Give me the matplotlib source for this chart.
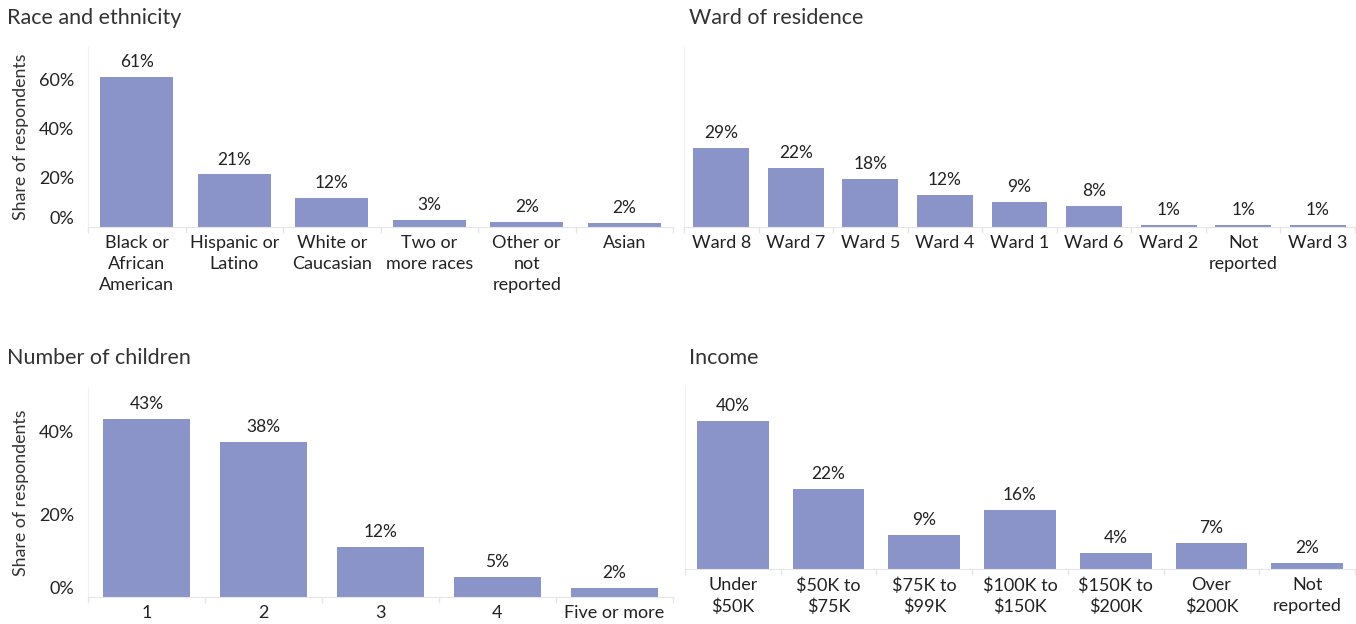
import matplotlib
matplotlib.use("Agg")
import matplotlib.pyplot as plt
from matplotlib.ticker import FixedLocator

plt.rcParams['font.family'] = ['Lato', 'DejaVu Sans']

# data
race_labels = ["Black or\nAfrican\nAmerican", "Hispanic or\nLatino", "White or\nCaucasian",
               "Two or\nmore races", "Other or\nnot\nreported", "Asian"]
race_values = [61, 21.3, 11.7, 2.8, 2.2, 1.6]

ward_labels = ["Ward 8", "Ward 7", "Ward 5", "Ward 4", "Ward 1", "Ward 6", "Ward 2",
               "Not\nreported", "Ward 3"]
ward_values = [29, 21.6, 17.6, 11.6, 9.2, 7.6, 0.9, 0.9, 0.6]

child_labels = ["1", "2", "3", "4", "Five or more"]
child_values = [43, 37.5, 12, 4.9, 2.2]

income_labels = ["Under\n$50K", "$50K to\n$75K", "$75K to\n$99K", "$100K to\n$150K",
                 "$150K to\n$200K", "Over\n$200K", "Not\nreported"]
income_values = [40, 21.6, 9.3, 16, 4.3, 7, 1.6]

BAR = '#8a94c9'
TXT = '#222222'
GRID = '#e6e6e6'
W, H = 1356, 624

fig = plt.figure(figsize=(W / 100, H / 100), dpi=100)


def px_axes(x0, x1, ytop, ybase):
    return fig.add_axes([x0 / W, 1 - ybase / H, (x1 - x0) / W, (ybase - ytop) / H])


def panel(ax, labels, values, ymax, yticks, title, title_xy, ylabel=False):
    n = len(values)
    x = list(range(n))
    ax.bar(x, values, width=0.75, color=BAR, edgecolor='none', zorder=2)
    ax.set_xlim(-0.5, n - 0.5)
    ax.set_ylim(0, ymax)
    for xi, v in zip(x, values):
        ax.annotate(f"{round(v)}%", (xi, v), xytext=(0, 5), textcoords='offset points',
                    ha='center', va='bottom', fontsize=12.5, color=TXT)
    ax.set_xticks(x)
    ax.set_xticklabels(labels, fontsize=13, color=TXT, linespacing=1.38, va='top')
    ax.xaxis.set_minor_locator(FixedLocator([i - 0.5 for i in range(n + 1)]))
    ax.tick_params(axis='x', which='major', length=0, pad=6)
    ax.tick_params(axis='x', which='minor', length=4, color=GRID, width=1)
    for s in ['top', 'right']:
        ax.spines[s].set_visible(False)
    ax.spines['left'].set_color('#f0f0f0')
    ax.spines['bottom'].set_color(GRID)
    if yticks:
        ax.set_yticks(yticks)
        tl = ax.set_yticklabels([f"{t}%" for t in yticks], fontsize=13, color=TXT)
        tl[0].set_va('bottom')
        ax.tick_params(axis='y', length=0, pad=10)
    else:
        ax.set_yticks([])
    if ylabel:
        ax.set_ylabel("Share of respondents", fontsize=12.8, color='#333333', labelpad=7)
    fig.text(title_xy[0] / W, 1 - title_xy[1] / H, title, fontsize=15.5, color='#333333',
             ha='left', va='center')


ax1 = px_axes(88, 673, 47, 227)
panel(ax1, race_labels, race_values, 73, [0, 20, 40, 60], "Race and ethnicity", (7, 18), True)

ax2 = px_axes(684, 1355, 47, 227)
panel(ax2, ward_labels, ward_values, 66, None, "Ward of residence", (689, 18))

ax3 = px_axes(88, 673, 388, 597)
panel(ax3, child_labels, child_values, 50.5, [0, 20, 40], "Number of children", (7, 358), True)

ax4 = px_axes(685, 1355, 387, 569)
panel(ax4, income_labels, income_values, 49.3, None, "Income", (689, 358))

fig.savefig("out.png", dpi=100)
